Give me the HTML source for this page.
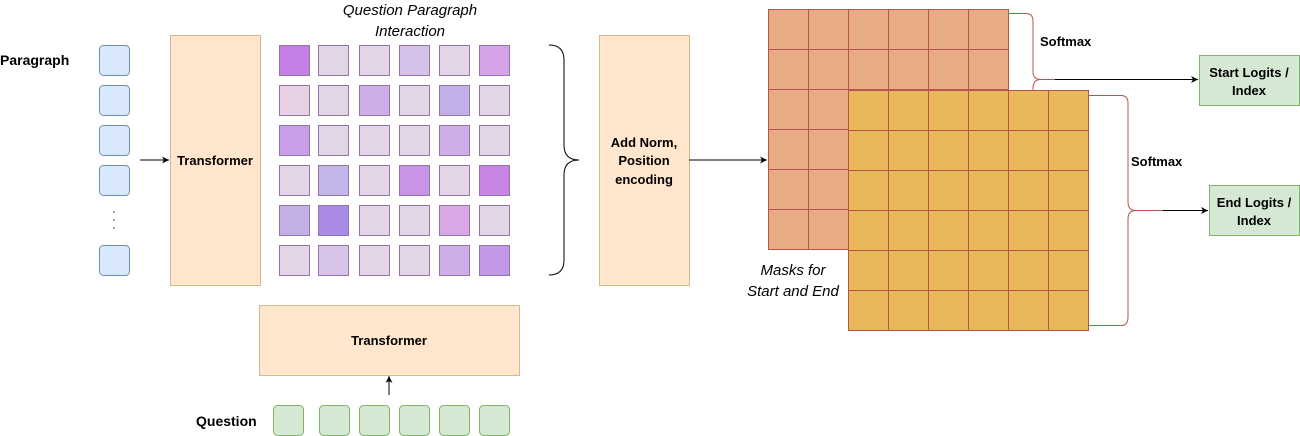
<!DOCTYPE html>
<html><head><meta charset="utf-8"><style>body{margin:0;background:#fff}svg{display:block;font-family:"Liberation Sans",sans-serif}</style></head><body>
<svg width="1300" height="436" viewBox="0 0 1300 436" xmlns="http://www.w3.org/2000/svg">
<defs><marker id="a" markerWidth="8" markerHeight="8" refX="7" refY="4" orient="auto" markerUnits="userSpaceOnUse"><path d="M0,0.5 L7,4 L0,7.5 L2,4 Z" fill="#000"/></marker></defs>
<text x="0" y="65" font-size="14" font-weight="bold">Paragraph</text>
<g fill="#dae8fc" stroke="#6c8ebf">
<rect x="99.5" y="45.5" width="30" height="30" rx="4"/><rect x="99.5" y="85.5" width="30" height="30" rx="4"/><rect x="99.5" y="125.5" width="30" height="30" rx="4"/><rect x="99.5" y="165.5" width="30" height="30" rx="4"/><rect x="99.5" y="245.5" width="30" height="30" rx="4"/></g>
<g fill="#6c8ebf"><circle cx="114" cy="212" r="1"/><circle cx="114" cy="220" r="1"/><circle cx="114" cy="228" r="1"/></g>
<line x1="140" y1="160" x2="169" y2="160" stroke="#000" marker-end="url(#a)"/>
<rect x="170.5" y="35.5" width="90" height="250" fill="#ffe6cc" stroke="#d6b98f"/>
<text x="215" y="165" font-size="13" font-weight="bold" text-anchor="middle">Transformer</text>
<text x="410" y="15" font-size="15" font-style="italic" text-anchor="middle">Question Paragraph</text>
<text x="410" y="36" font-size="15" font-style="italic" text-anchor="middle">Interaction</text>
<g stroke="#9673a6">
<rect x="279.5" y="45.5" width="30" height="30" fill="#c47fe6"/><rect x="318.5" y="45.5" width="30" height="30" fill="#e1d5e7"/><rect x="359.5" y="45.5" width="30" height="30" fill="#e1d5e7"/><rect x="399.5" y="45.5" width="30" height="30" fill="#d6c2e8"/><rect x="439.5" y="45.5" width="30" height="30" fill="#e1d5e7"/><rect x="479.5" y="45.5" width="30" height="30" fill="#d6a2e8"/>
<rect x="279.5" y="85.5" width="30" height="30" fill="#e6d0e6"/><rect x="318.5" y="85.5" width="30" height="30" fill="#e1d5e7"/><rect x="359.5" y="85.5" width="30" height="30" fill="#cdaee8"/><rect x="399.5" y="85.5" width="30" height="30" fill="#e1d5e7"/><rect x="439.5" y="85.5" width="30" height="30" fill="#c2b0e8"/><rect x="479.5" y="85.5" width="30" height="30" fill="#e1d5e7"/>
<rect x="279.5" y="125.5" width="30" height="30" fill="#c79ee8"/><rect x="318.5" y="125.5" width="30" height="30" fill="#e1d5e7"/><rect x="359.5" y="125.5" width="30" height="30" fill="#e1d5e7"/><rect x="399.5" y="125.5" width="30" height="30" fill="#e1d5e7"/><rect x="439.5" y="125.5" width="30" height="30" fill="#cdaee8"/><rect x="479.5" y="125.5" width="30" height="30" fill="#e1d5e7"/>
<rect x="279.5" y="165.5" width="30" height="30" fill="#e1d5e7"/><rect x="318.5" y="165.5" width="30" height="30" fill="#c2b6e8"/><rect x="359.5" y="165.5" width="30" height="30" fill="#e1d5e7"/><rect x="399.5" y="165.5" width="30" height="30" fill="#c894e6"/><rect x="439.5" y="165.5" width="30" height="30" fill="#e1d5e7"/><rect x="479.5" y="165.5" width="30" height="30" fill="#c785e6"/>
<rect x="279.5" y="205.5" width="30" height="30" fill="#c2b0e6"/><rect x="318.5" y="205.5" width="30" height="30" fill="#a98ae6"/><rect x="359.5" y="205.5" width="30" height="30" fill="#e1d5e7"/><rect x="399.5" y="205.5" width="30" height="30" fill="#e1d5e7"/><rect x="439.5" y="205.5" width="30" height="30" fill="#d9a6e6"/><rect x="479.5" y="205.5" width="30" height="30" fill="#e1d5e7"/>
<rect x="279.5" y="245.5" width="30" height="30" fill="#e1d5e7"/><rect x="318.5" y="245.5" width="30" height="30" fill="#d8c4e8"/><rect x="359.5" y="245.5" width="30" height="30" fill="#e1d5e7"/><rect x="399.5" y="245.5" width="30" height="30" fill="#e1d5e7"/><rect x="439.5" y="245.5" width="30" height="30" fill="#cdaee8"/><rect x="479.5" y="245.5" width="30" height="30" fill="#c299e6"/>
</g>
<path d="M549,45 Q564,45 564,60 L564,145 Q564,160 579,160 Q564,160 564,175 L564,260 Q564,275 549,275" fill="none" stroke="#000"/>
<rect x="599.5" y="35.5" width="90" height="250" fill="#ffe6cc" stroke="#d6b98f"/>
<text x="644" y="147" font-size="13" font-weight="bold" text-anchor="middle">Add Norm,</text>
<text x="644" y="165" font-size="13" font-weight="bold" text-anchor="middle">Position</text>
<text x="644" y="184" font-size="13" font-weight="bold" text-anchor="middle">encoding</text>
<line x1="689" y1="160" x2="767" y2="160" stroke="#000" marker-end="url(#a)"/>
<rect x="259.5" y="305.5" width="260" height="70" fill="#ffe6cc" stroke="#d6b98f"/>
<text x="389" y="345" font-size="13" font-weight="bold" text-anchor="middle">Transformer</text>
<line x1="389" y1="395" x2="389" y2="376" stroke="#000" marker-end="url(#a)"/>
<text x="196" y="426" font-size="14" font-weight="bold">Question</text>
<g fill="#d5e8d4" stroke="#82b366">
<rect x="273.5" y="405.5" width="30" height="30" rx="4"/><rect x="319.5" y="405.5" width="30" height="30" rx="4"/><rect x="359.5" y="405.5" width="30" height="30" rx="4"/><rect x="399.5" y="405.5" width="30" height="30" rx="4"/><rect x="439.5" y="405.5" width="30" height="30" rx="4"/><rect x="479.5" y="405.5" width="30" height="30" rx="4"/></g>
<g stroke="#b85450">
<rect x="768.5" y="9.5" width="240" height="240" fill="#e8ad85"/>
<path d="M808.5,9.5V249.5M848.5,9.5V249.5M888.5,9.5V249.5M928.5,9.5V249.5M968.5,9.5V249.5M768.5,49.5H1008.5M768.5,89.5H1008.5M768.5,129.5H1008.5M768.5,169.5H1008.5M768.5,209.5H1008.5" fill="none"/>
<rect x="848.5" y="90.5" width="240" height="240" fill="#e8b85a"/>
<path d="M888.5,90.5V330.5M928.5,90.5V330.5M968.5,90.5V330.5M1008.5,90.5V330.5M1048.5,90.5V330.5M848.5,130.5H1088.5M848.5,170.5H1088.5M848.5,210.5H1088.5M848.5,250.5H1088.5M848.5,290.5H1088.5" fill="none"/>
<path d="M1008,13.5 L1026,13.5 Q1033,13.5 1033,21 L1033,72 Q1033,79.5 1041,79.5 L1055,79.5 M1041,79.5 Q1033,79.5 1033,88 L1033,90" fill="none"/>
<path d="M1088,95.5 L1121,95.5 Q1128,95.5 1128,103 L1128,202 Q1128,210.5 1136,210.5 L1163,210.5 M1136,210.5 Q1128,210.5 1128,219 L1128,317 Q1128,325.5 1121,325.5 L1088,325.5" fill="none"/>
</g>
<line x1="1055" y1="79.5" x2="1198" y2="79.5" stroke="#000" marker-end="url(#a)"/>
<line x1="1163" y1="210.5" x2="1208" y2="210.5" stroke="#000" marker-end="url(#a)"/>
<text x="1040" y="46" font-size="13" font-weight="bold">Softmax</text>
<text x="1131" y="166" font-size="13" font-weight="bold">Softmax</text>
<rect x="1199.5" y="55.5" width="100" height="50" fill="#d5e8d4" stroke="#82b366"/>
<text x="1249" y="77" font-size="13" font-weight="bold" text-anchor="middle">Start Logits /</text>
<text x="1249" y="95" font-size="13" font-weight="bold" text-anchor="middle">Index</text>
<rect x="1209.5" y="185.5" width="90" height="50" fill="#d5e8d4" stroke="#82b366"/>
<text x="1254" y="207" font-size="13" font-weight="bold" text-anchor="middle">End Logits /</text>
<text x="1254" y="225" font-size="13" font-weight="bold" text-anchor="middle">Index</text>
<text x="793" y="275" font-size="15" font-style="italic" text-anchor="middle">Masks for</text>
<text x="793" y="296" font-size="15" font-style="italic" text-anchor="middle">Start and End</text>
</svg>
</body></html>
